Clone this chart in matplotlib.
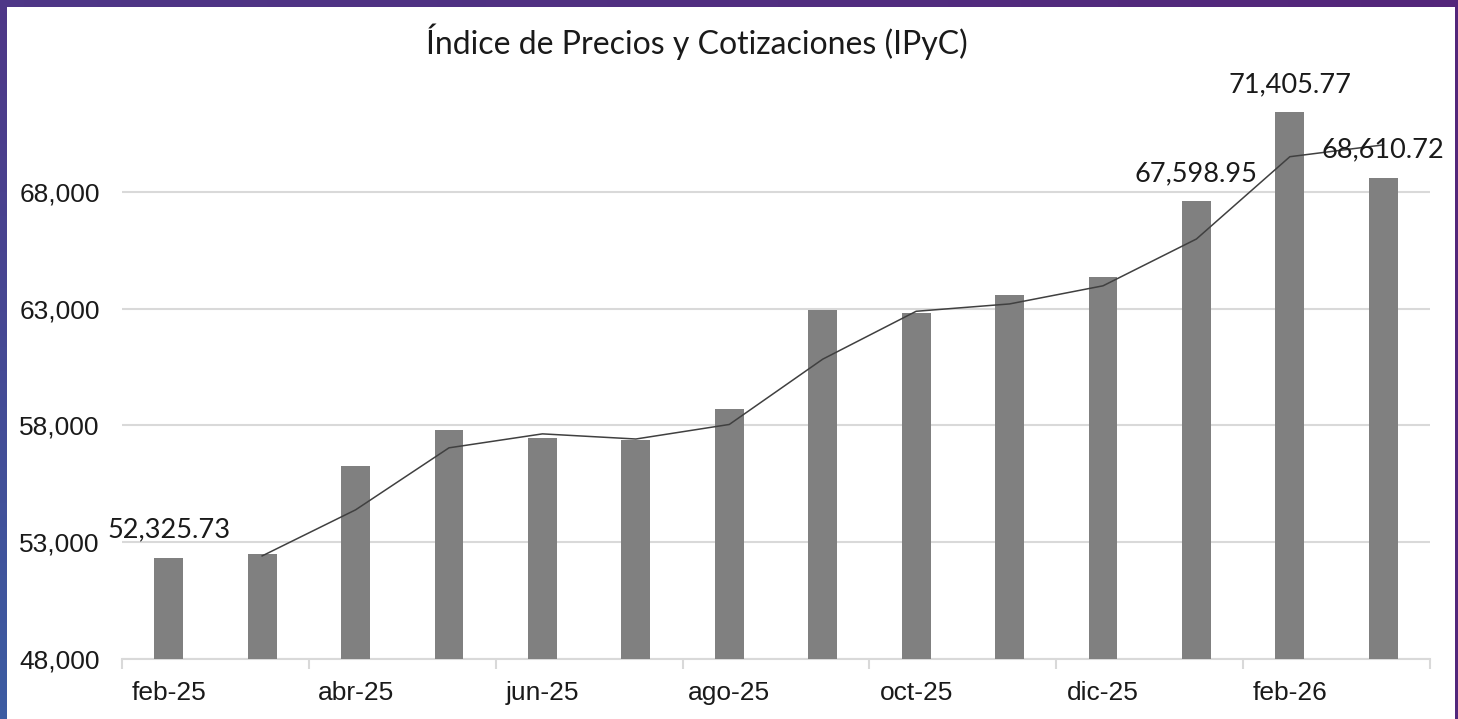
import matplotlib.pyplot as plt
import numpy as np
import pandas as pd
from matplotlib.patches import Rectangle
from matplotlib.ticker import FuncFormatter

# datos del IPyC (cierre mensual)
meses = ["feb-25", "mar-25", "abr-25", "may-25", "jun-25", "jul-25", "ago-25",
         "sep-25", "oct-25", "nov-25", "dic-25", "ene-26", "feb-26", "mar-26"]
valores = [52325.73, 52500, 56270, 57810, 57465, 57370, 58710,
           62960, 62810, 63590, 64360, 67598.95, 71405.77, 68610.72]
etiquetas = {0: "52,325.73", 11: "67,598.95", 12: "71,405.77", 13: "68,610.72"}

# media movil de 2 periodos (linea de tendencia)
media_movil = pd.Series(valores).rolling(2).mean()

plt.rcParams["font.family"] = ["Liberation Sans", "DejaVu Sans"]

fig = plt.figure(figsize=(14.58, 7.19), dpi=100)

# ── marco morado con degradado ──
bg = fig.add_axes([0, 0, 1, 1], zorder=-10)
tl = np.array([78, 55, 135]) / 255
tr = np.array([84, 38, 122]) / 255
bl = np.array([60, 92, 162]) / 255
br = np.array([82, 40, 124]) / 255
u = np.linspace(0, 1, 60)[None, :, None]
v = np.linspace(0, 1, 60)[:, None, None]
grad = (1 - v) * ((1 - u) * tl + u * tr) + v * ((1 - u) * bl + u * br)
bg.imshow(grad, extent=[0, 1, 0, 1], aspect="auto", origin="upper")
bg.add_patch(Rectangle((7 / 1458, 0), (1455 - 7) / 1458, (719 - 7) / 719,
                       facecolor="white", edgecolor="none"))
bg.set_xlim(0, 1)
bg.set_ylim(0, 1)
bg.axis("off")

# ── grafica principal ──
ax = fig.add_axes([122 / 1458, 60 / 719, (1430 - 122) / 1458, (659 - 75) / 719])
ax.patch.set_alpha(0)
x = np.arange(len(meses))
ax.bar(x, valores, width=0.31, color="#808080", zorder=3)
ax.plot(x, media_movil, color="#404040", linewidth=1.1, zorder=4)

for i, txt in etiquetas.items():
    ax.annotate(txt, (x[i], valores[i]), xytext=(0, 11), textcoords="offset points",
                ha="center", va="bottom", fontsize=19.5, family=["Lato", "DejaVu Sans"],
                color="#1a1a1a", zorder=5)

ax.set_xlim(-0.5, 13.5)
ax.set_ylim(48000, 73000)
ax.set_yticks([48000, 53000, 58000, 63000, 68000])
ax.yaxis.set_major_formatter(FuncFormatter(lambda v, p: f"{v:,.0f}"))
ax.set_xticks(x[::2])
ax.set_xticklabels(meses[::2])
ax.set_xticks(np.arange(-0.5, 14, 2), minor=True)
ax.tick_params(axis="x", which="major", length=0, pad=16, labelsize=19, colors="#1a1a1a")
ax.tick_params(axis="x", which="minor", length=7, width=1.5, color="#d9d9d9")
ax.tick_params(axis="y", length=0, pad=16, labelsize=19, colors="#1a1a1a")
ax.grid(axis="y", color="#d9d9d9", linewidth=1.5, zorder=0)
for s in ["top", "right", "left"]:
    ax.spines[s].set_visible(False)
ax.spines["bottom"].set_color("#d9d9d9")
ax.spines["bottom"].set_linewidth(1.5)

fig.text(697 / 1458, 1 - 42 / 719, "Índice de Precios y Cotizaciones (IPyC)",
         ha="center", va="center", fontsize=23, family=["Lato", "DejaVu Sans"],
         color="#1a1a1a")

plt.savefig("out.png", dpi=100)
